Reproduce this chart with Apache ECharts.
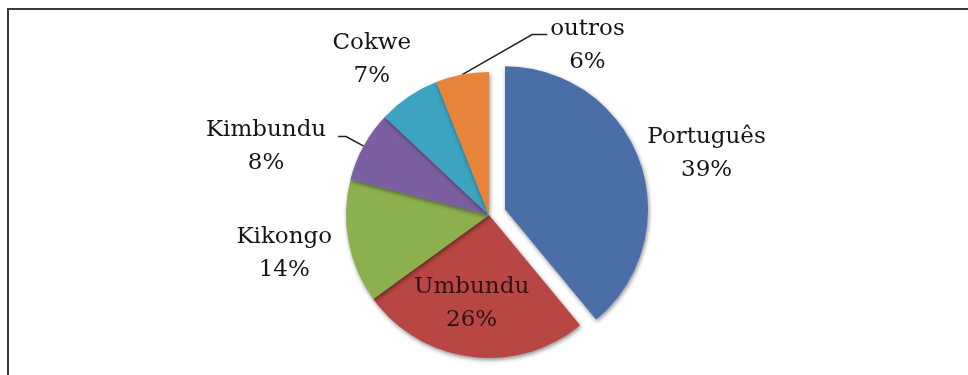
<!DOCTYPE html>
<html><head><meta charset="utf-8">
<script src="https://cdn.jsdelivr.net/npm/echarts@6/dist/echarts.min.js"></script>
<style>html,body{margin:0;padding:0;background:#fff}#c{width:968px;height:375px}</style>
</head><body><div id="c"></div>
<script>
// ---- data ----
const categories = ['Português', 'Umbundu', 'Kikongo', 'Kimbundu', 'Cokwe', 'outros'];
const values = [39, 26, 14, 8, 7, 6];

// ---- styling (not data) ----
const palette = ['#4a6ea7', '#b84643', '#8db04f', '#7b5fa0', '#3ca3c0', '#e8843a'];
const FONT = 'DejaVu Serif';
const TXT = { fontFamily: FONT, fontSize: 23, lineHeight: 33, color: '#141414' };
const labelCfg = [
  { label: { position: 'outside', distanceToLabelLine: 2,
             formatter: '{a|{b}}\n{a|{c}%}\n{sp| }',
             rich: { a: Object.assign({ align: 'center' }, TXT), sp: { fontSize: 1, lineHeight: 12 } } },
    labelLine: { show: false, length: 3, length2: 3 } },
  { label: { position: 'inside', color: '#2e1212' }, labelLine: { show: false } },
  { label: { position: 'outside', distanceToLabelLine: 2 }, labelLine: { show: false, length: 3, length2: 10 } },
  { label: { position: 'outside', distanceToLabelLine: 10 }, labelLine: { show: true, length: 20, length2: 8 } },
  { label: { position: 'outside', distanceToLabelLine: 0 }, labelLine: { show: false, length: 0, length2: 0 } },
  { label: { position: 'outside', distanceToLabelLine: 0 }, labelLine: { show: true, length: 0, length2: 18 } }
];
// label block nudges relative to the library's default label box (centre), px
const labelNudge = [null, [-8, 15], [-1.5, 11.5], [-2, 10], [2.5, -37], [180.5, -29]];

const data = categories.map((name, i) => Object.assign({
  name: name,
  value: values[i],
  selected: i === 0
}, labelCfg[i]));

const chart = echarts.init(document.getElementById('c'), null, { renderer: 'canvas' });
chart.setOption({
  animation: false,
  color: palette,
  graphic: [{
    type: 'rect', silent: true,
    shape: { x: 8, y: 9, width: 1000, height: 500 },
    style: { fill: 'none', stroke: '#3a3a3a', lineWidth: 2 }
  }],
  series: [{
    type: 'pie',
    center: [489, 215],
    radius: 143,
    startAngle: 90,
    clockwise: true,
    selectedMode: 'single',
    selectedOffset: 17,
    avoidLabelOverlap: false,
    itemStyle: {
      borderWidth: 0,
      shadowColor: 'rgba(0,0,0,0.45)',
      shadowBlur: 4,
      shadowOffsetX: 1,
      shadowOffsetY: 2
    },
    select: { itemStyle: { borderWidth: 0 } },
    emphasis: { disabled: true },
    label: Object.assign({ show: true, formatter: '{b}\n{c}%' }, TXT),
    labelLine: { lineStyle: { color: '#222', width: 1.5 } },
    labelLayout: function (p) {
      const n = labelNudge[p.dataIndex];
      if (!n) return {};
      const r = p.labelRect;
      const cx = r.x + r.width / 2 + n[0];
      const cy = r.y + r.height / 2 + n[1];
      const out = { x: cx, y: cy, align: 'center', verticalAlign: 'middle' };
      const pts = p.labelLinePoints;
      if (pts && p.dataIndex === 3) {
        out.labelLinePoints = pts.map(q => [q[0], q[1]]);
      }
      if (pts && p.dataIndex === 5) {
        const left = cx - r.width / 2 - 3;
        const ly = cy - 11;
        out.labelLinePoints = [[pts[0][0], pts[0][1]], [left - 15, ly], [left, ly]];
      }
      return out;
    },
    data: data
  }]
});
</script>
</body></html>
